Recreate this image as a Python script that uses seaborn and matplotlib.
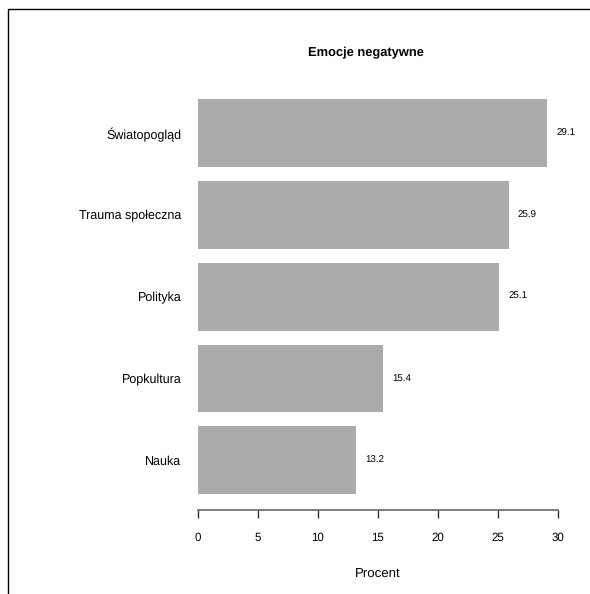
import matplotlib
matplotlib.use("Agg")
import matplotlib.pyplot as plt
import seaborn as sns
import pandas as pd
from matplotlib.lines import Line2D

categories = ["Światopogląd", "Trauma społeczna", "Polityka", "Popkultura", "Nauka"]
values = [29.1, 25.9, 25.1, 15.4, 13.2]
value_labels = ["29.1", "25.9", "25.1", "15.4", "13.2"]
xticks = [0, 5, 10, 15, 20, 25, 30]

sns.set_theme(style="white")
plt.rcParams['font.family'] = ['Liberation Sans', 'DejaVu Sans']
plt.rcParams['text.color'] = 'black'
plt.rcParams['text.hinting'] = 'no_hinting'

W, H = 590, 594
fig = plt.figure(figsize=(W / 100, H / 100), dpi=100)
ax = fig.add_axes([198 / W, 1 - 510 / H, (558 - 198) / W, (510 - 90) / H])

df = pd.DataFrame({"cat": categories, "val": values})
sns.barplot(data=df, x="val", y="cat", orient="h", color="#ABABAB",
            saturation=1, width=0.83, ax=ax, edgecolor="none")

ax.set_xlim(0, 30)
ax.set_ylim(4.61, -0.53)
for s in ["top", "right", "left"]:
    ax.spines[s].set_visible(False)
ax.spines["bottom"].set_bounds(0, 30)
ax.spines["bottom"].set_color("#666666")
ax.spines["bottom"].set_linewidth(1.2)
ax.set_xticks(xticks)
ax.set_xticklabels([str(t) for t in xticks])
ax.tick_params(axis="x", direction="out", length=6, width=1, color="#333333",
               pad=10, labelsize=8.3, labelcolor="black", bottom=True)
ax.tick_params(axis="y", length=0, pad=12, labelsize=9, labelcolor="black")
ax.set_xlabel("Procent", fontsize=9.5, labelpad=18, color="black")
ax.set_ylabel("")

for i, (v, lab) in enumerate(zip(values, value_labels)):
    ax.annotate(lab, xy=(v, i), xytext=(6.5, 0), textcoords="offset points",
                ha="left", va="center", fontsize=7, color="black",
                annotation_clip=False)

fig.text(366 / W, 1 - 53 / H, "Emocje negatywne",
         ha="center", va="center", fontsize=9.3, fontweight="bold", color="black")

fig.add_artist(Line2D([8 / W, 8 / W], [0, 1 - 9 / H], transform=fig.transFigure,
                      color="black", linewidth=1))
fig.add_artist(Line2D([8 / W, 1], [1 - 9 / H, 1 - 9 / H], transform=fig.transFigure,
                      color="black", linewidth=1))

fig.savefig("out.png", dpi=100, facecolor="white")
